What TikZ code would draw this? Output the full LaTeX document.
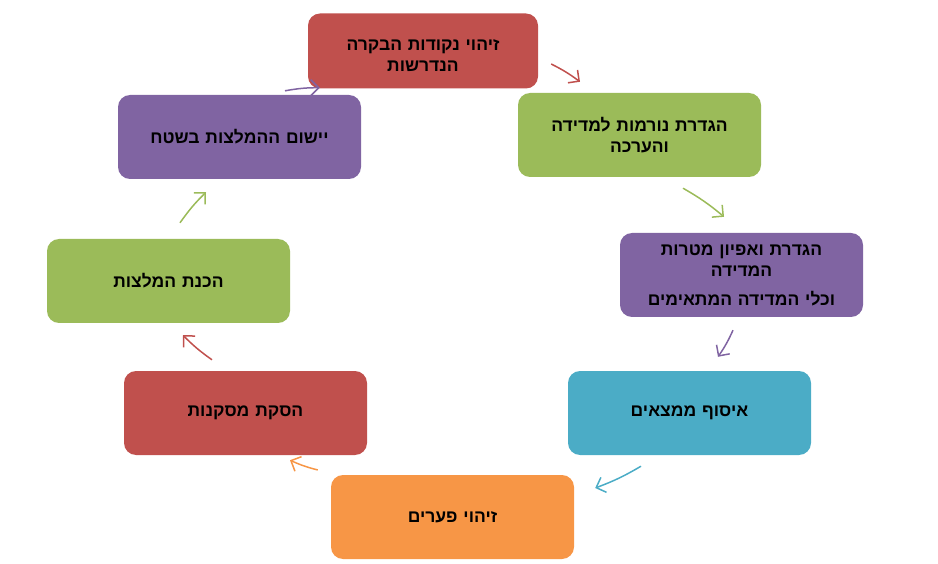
\documentclass[tikz,border=0pt]{standalone}
\usepackage{fontspec}
\usepackage{tikz}
\usetikzlibrary{arrows.meta}
\TeXXeTstate=1
\newfontfamily\hebfont[Script=Hebrew]{Liberation Sans}
\definecolor{ofred}{HTML}{C0504D}
\definecolor{ofgreen}{HTML}{9BBB59}
\definecolor{ofpurple}{HTML}{8064A2}
\definecolor{ofblue}{HTML}{4BACC6}
\definecolor{oforange}{HTML}{F79646}
\tikzstyle{block} = [rectangle, rounded corners=12pt, fill=ofred, text width=225pt,
inner sep=9pt, align=center, minimum height=84pt, node distance=200pt, font=\hebfont\bfseries\fontsize{17.5}{21}\selectfont]
\tikzstyle{line} = [draw, -{Straight Barb[length=8pt,width=16pt,line width=1.5pt]}, line width=1.5pt, bend left=5]

\begin{document}
\begin{tikzpicture}[x=1pt,y=1pt]
\useasboundingbox (0,0) rectangle (938,-564);
% Place nodes
	\node [block, text width=212pt, minimum height=75pt, text height=21pt] at (423,-51) (ctrl) {\beginR זיהוי נקודות הבקרה\endR\\\beginR הנדרשות\endR};
	\node [block, right of=ctrl, fill=ofgreen, xshift=16.5pt, yshift=-84pt] (norms) {\beginR הגדרת נורמות למדידה\endR\\\beginR והערכה\endR};
	\node [block, below of=norms, fill=ofpurple, xshift=102pt, yshift=60pt] (goals) {\beginR הגדרת ואפיון מטרות\endR\\\beginR המדידה\endR\\[8pt]\beginR וכלי המדידה המתאימים\endR};
	\node [block, below of=goals, fill=ofblue, xshift=-52pt, yshift=62pt] (collect) {\beginR איסוף ממצאים\endR};
	\node [block, left of=collect, fill=oforange, xshift=-37pt, yshift=-104pt] (gaps) {\beginR זיהוי פערים\endR};
	\node [block, left of=gaps, fill=ofred, xshift=-7pt, yshift=104pt] (concl) {\beginR הסקת מסקנות\endR};
	\node [block, above of=concl, fill=ofgreen, xshift=-77pt, yshift=-68pt] (recom) {\beginR הכנת המלצות\endR};
	\node [block, above of=recom, fill=ofpurple, xshift=71pt, yshift=-56pt] (apply) {\beginR יישום ההמלצות בשטח\endR};

% Arrow ends
	\coordinate (a1s) at ([shift={(13,-13)}]ctrl.east);
	\coordinate (a1e) at ([shift={(-59.5,11)}]norms.north);
	\coordinate (a2s) at ([shift={(43.5,-11)}]norms.south);
	\coordinate (a2e) at ([shift={(-17.5,16)}]goals.north);
	\coordinate (a3s) at ([shift={(-8.5,-13)}]goals.south);
	\coordinate (a3e) at ([shift={(28.5,14)}]collect.north);
	\coordinate (a4s) at ([shift={(-48.5,-11)}]collect.south);
	\coordinate (a4e) at ([shift={(21,29)}]gaps.east);
	\coordinate (a5s) at ([shift={(-13,47)}]gaps.west);
	\coordinate (a5e) at ([shift={(44.5,-5)}]concl.south);
	\coordinate (a6s) at ([shift={(-33.5,11)}]concl.north);
	\coordinate (a6e) at ([shift={(14.5,-12)}]recom.south);
	\coordinate (a7s) at ([shift={(11.5,16)}]recom.north);
	\coordinate (a7e) at ([shift={(-33.5,-13)}]apply.south);
	\coordinate (a8s) at ([shift={(45.5,4)}]apply.north);
	\coordinate (a8e) at ([shift={(12,1)}]ctrl.south west);

% Draw edges
	\path [line, ofred] (a1s) to (a1e);
	\path [line, ofgreen] (a2s) to (a2e);
	\path [line, ofpurple] (a3s) to (a3e);
	\path [line, ofblue] (a4s) to (a4e);
	\path [line, oforange] (a5s) to (a5e);
	\path [line, ofred] (a6s) to (a6e);
	\path [line, ofgreen] (a7s) to (a7e);
	\path [line, ofpurple] (a8s) to (a8e);

\end{tikzpicture}
\end{document}
